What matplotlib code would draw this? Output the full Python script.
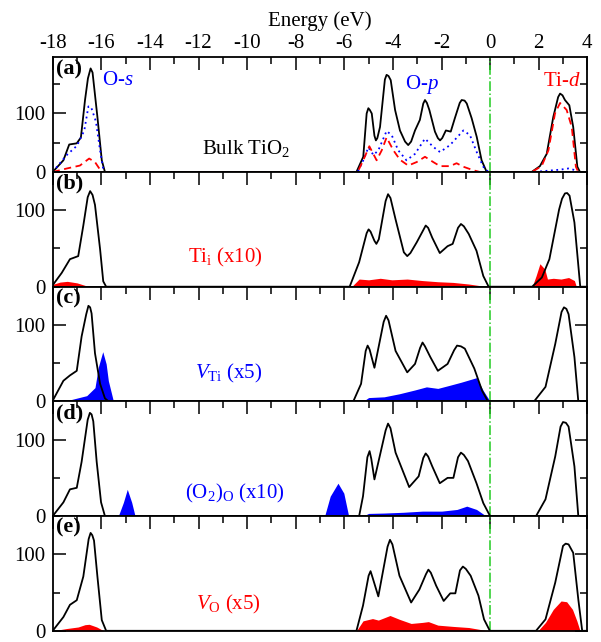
import numpy as np
import matplotlib
matplotlib.use("Agg")
import matplotlib.pyplot as plt
from matplotlib.ticker import MultipleLocator

plt.rcParams['font.family'] = 'Liberation Serif'
plt.rcParams['mathtext.fontset'] = 'custom'
plt.rcParams['mathtext.rm'] = 'Liberation Serif'
plt.rcParams['mathtext.it'] = 'Liberation Serif:italic'
plt.rcParams['mathtext.bf'] = 'Liberation Serif:bold'
plt.rcParams['axes.unicode_minus'] = False

# ---- (a) bulk TiO2 ----
tot_a_e = [-18.0, -17.56, -17.32, -17.01, -16.84, -16.67, -16.55, -16.44, -16.36, -16.16, -15.98, -15.85,
           -5.50, -5.22, -5.08, -5.01, -4.95, -4.87, -4.76, -4.70, -4.64, -4.53, -4.33, -4.26, -4.18,
           -4.09, -3.91, -3.71, -3.50, -3.37, -3.25, -3.09, -2.89, -2.75, -2.68, -2.60, -2.50, -2.27,
           -2.15, -2.06, -1.97, -1.82, -1.62, -1.45, -1.25, -1.17, -1.05, -0.96, -0.76, -0.55, -0.35, -0.14,
           1.71, 2.05, 2.33, 2.60, 2.80, 2.88, 2.98, 3.08, 3.26, 3.42, 3.59, 3.70, 4.0]
tot_a_v = [0, 20, 47, 49, 59, 123, 160, 177, 170, 94, 20, 0,
           0, 26, 100, 109, 106, 100, 62, 54, 58, 77, 158, 166, 164,
           157, 106, 71, 52, 46, 52, 71, 89, 117, 123, 118, 106, 69,
           58, 54, 58, 71, 69, 92, 118, 123, 122, 117, 92, 60, 20, 0,
           0, 10, 31, 94, 128, 134, 131, 123, 114, 77, 9, 0, 0]

os_a_e = [-18.0, -17.7, -17.42, -17.0, -16.7, -16.53, -16.42, -16.22, -16.05, -15.9,
          -5.45, -5.22, -5.01, -4.80, -4.60, -4.26, -4.05, -3.78, -3.44, -3.09, -2.68, -2.34,
          -2.06, -1.65, -1.10, -0.83, -0.55, -0.28, -0.07,
          1.78, 2.33, 2.88, 3.22, 3.42, 3.60, 4.0]
os_a_v = [0, 15, 29, 45, 71, 112, 111, 86, 37, 0,
          0, 20, 42, 29, 37, 70, 63, 37, 20, 31, 57, 43,
          34, 46, 71, 63, 34, 9, 0,
          0, 2, 4, 6, 4, 0, 0]

tid_a_e = [-18.0, -17.42, -16.88, -16.5, -16.26, -16.05, -15.98,
           -5.45, -5.22, -4.97, -4.67, -4.46, -4.26, -3.98, -3.71, -3.37, -3.02, -2.68, -2.34,
           -2.06, -1.65, -1.38, -1.10, -0.69, -0.42,
           1.71, 2.12, 2.40, 2.67, 2.88, 3.15, 3.36, 3.53, 3.63, 4.0]
tid_a_v = [0, 6, 11, 23, 17, 4, 0,
           0, 20, 44, 20, 37, 59, 37, 21, 11, 17, 26, 17,
           10, 10, 15, 9, 3, 0,
           0, 10, 37, 100, 118, 106, 77, 9, 0, 0]

# ---- (b) Ti interstitial ----
tot_b_e = [-18.0, -17.63, -17.29, -16.95, -16.74, -16.56, -16.46, -16.36, -16.26, -16.05, -15.92, -15.8,
           -5.78, -5.39, -5.08, -5.00, -4.92, -4.76, -4.68, -4.58, -4.30, -4.20, -4.10, -3.89,
           -3.55, -3.41, -3.28, -3.02, -2.75, -2.65, -2.55, -2.38, -2.07, -1.75,
           -1.54, -1.32, -1.20, -1.08, -0.88, -0.56, -0.28, -0.06,
           1.73, 2.13, 2.44, 2.84, 2.96, 3.08, 3.17, 3.27, 3.47, 3.71, 4.0]
tot_b_v = [2, 18, 36, 40, 80, 117, 125, 120, 107, 49, 7, 0,
           0, 32, 70, 75, 72, 60, 56, 62, 112, 121, 116, 88,
           45, 40, 44, 58, 74, 80, 77, 64, 44, 53,
           56, 77, 82, 79, 69, 47, 14, 0,
           0, 12, 36, 101, 115, 122, 122.5, 119, 84, 0, 0]
def_b_e = [-18.0, -17.7, -17.4, -17.0, -16.6, -16.4,
           -5.70, -5.39, -5.00, -4.52, -4.04, -3.41, -2.78, -2.15, -1.52, -0.88, -0.40, -0.17,
           1.73, 1.89, 2.05, 2.25, 2.36, 2.60, 2.92, 3.23, 3.47, 3.55]
def_b_v = [3, 6, 7, 5, 1, 0,
           0, 10, 9, 11, 9, 10, 8, 6.5, 5.6, 3.5, 1.3, 0,
           0, 14, 30, 23, 10, 11, 10, 12, 8, 0]

# ---- (c) Ti vacancy ----
tot_c_e = [-18.0, -17.56, -17.29, -17.01, -16.81, -16.62, -16.53, -16.46, -16.40, -16.26, -16.05, -15.85, -15.7,
           -5.63, -5.31, -5.12, -5.04, -4.96, -4.76, -4.38, -4.28, -4.18, -3.89, -3.41, -3.09,
           -2.88, -2.78, -2.68, -2.46, -2.15, -1.75,
           -1.48, -1.36, -1.20, -1.04, -0.65, -0.33, -0.09,
           1.81, 2.28, 2.68, 2.94, 3.04, 3.14, 3.23, 3.47, 3.63, 4.0]
tot_c_v = [1, 27, 34, 40, 85, 114, 125, 123, 115, 63, 23, 4, 0,
           0, 23, 66, 73, 68, 44, 104, 112, 106, 66, 38, 49,
           70, 77, 72, 58, 40, 49,
           67, 73, 72, 69, 43, 14, 0,
           0, 19, 75, 117, 123, 121, 114, 58, 0, 0]
def_c_e = [-18.0, -17.29, -16.6, -16.26, -16.12, -15.94, -15.80, -15.71, -15.5,
           -5.23, -5.00, -4.36, -3.73, -3.09, -2.62, -2.15, -1.67, -1.20, -0.56, -0.28, 0.0,
           2.55, 3.0, 3.4]
def_c_v = [0, 2, 7.5, 18, 45, 65, 49, 27, 0,
           0, 5, 6, 10, 15, 19, 17, 21, 25, 31, 14, 0,
           0, 2, 0]

# ---- (d) O2 on O site ----
tot_d_e = [-18.0, -17.56, -17.29, -17.01, -16.81, -16.56, -16.47, -16.40, -16.33, -16.19, -16.01, -15.85,
           -5.39, -5.23, -5.05, -4.96, -4.89, -4.76, -4.30, -4.20, -4.10, -3.89, -3.33, -2.94,
           -2.75, -2.65, -2.55, -2.38, -2.07, -1.75,
           -1.51, -1.32, -1.20, -1.08, -0.91, -0.56, -0.28, 0.0,
           1.89, 2.28, 2.68, 2.90, 3.00, 3.12, 3.23, 3.47, 3.63, 4.0]
tot_d_v = [0, 18, 35, 37, 71, 126, 135, 133, 124, 71, 18, 0,
           0, 26, 77, 85, 75, 48, 112, 121, 115, 83, 38, 52,
           76, 82, 78, 65, 43, 50,
           50, 77, 83, 80, 72, 43, 17, 0,
           0, 22, 78, 117, 123, 122, 117, 65, 0, 0]
def_d_e = [-18.0, -16.8, -16.5, -16.2, -15.3, -15.09, -14.93, -14.75, -14.61,
           -6.81, -6.58, -6.26, -6.02, -5.82,
           -5.23, -5.00, -4.36, -3.57, -2.78, -1.99, -1.36, -0.96, -0.56, -0.16,
           2.55, 3.0, 3.4]
def_d_v = [0, 0, 2, 0, 0, 18, 35, 18, 0,
           0, 26, 43, 30, 0,
           0, 3.5, 4, 5, 6.5, 6.5, 8.7, 13, 8.7, 0,
           0, 2, 0]

# ---- (e) O vacancy ----
tot_e_e = [-18.0, -17.56, -17.29, -17.01, -16.74, -16.52, -16.44, -16.37, -16.30, -16.16, -15.98, -15.8,
           -5.50, -5.23, -5.00, -4.92, -4.84, -4.60, -4.22, -4.12, -4.02, -3.73, -3.25, -2.91,
           -2.64, -2.54, -2.44, -2.22, -1.91, -1.64,
           -1.43, -1.24, -1.12, -1.00, -0.80, -0.48, -0.25, -0.01,
           1.89, 2.28, 2.68, 3.00, 3.11, 3.23, 3.42, 3.63, 3.79, 4.0]
tot_e_v = [0, 18, 34, 40, 71, 120, 128, 125, 118, 71, 14, 0,
           0, 33, 72, 78, 70, 45, 110, 119, 113, 72, 37, 54,
           74, 80, 76, 59, 39, 49,
           49, 79, 84, 81, 72, 46, 15, 0,
           0, 15, 63, 111, 114, 113, 102, 41, 0, 0]
def_e_e = [-18.0, -17.42, -16.95, -16.67, -16.50, -16.19, -15.9,
           -5.50, -5.23, -4.84, -4.60, -4.12, -3.73, -3.25, -2.78, -2.54, -2.15, -1.51, -0.88, -0.33, 0.0,
           1.97, 2.28, 2.60, 2.92, 3.15, 3.39, 3.57, 3.70]
def_e_v = [0, 3, 5, 8, 8.5, 5, 0,
           0, 13, 16, 14, 20, 15, 9.6, 11, 12, 7.4, 5.7, 4.3, 1.3, 0,
           0, 11, 28, 39, 38, 28, 13, 0]

panels = [
    (tot_a_e, tot_a_v, None, None, None, 196, '(a)'),
    (tot_b_e, tot_b_v, def_b_e, def_b_v, 'red', 150, '(b)'),
    (tot_c_e, tot_c_v, def_c_e, def_c_v, 'blue', 150, '(c)'),
    (tot_d_e, tot_d_v, def_d_e, def_d_v, 'blue', 150, '(d)'),
    (tot_e_e, tot_e_v, def_e_e, def_e_v, 'red', 150, '(e)'),
]

fig = plt.figure(figsize=(6.01, 6.42), dpi=100)
left, width = 52.7 / 601, 534.6 / 601
top_px, h_px = 57.3, 114.7

axes = []
for i, (te, tv, de, dv, dcol, ymax, lab) in enumerate(panels):
    bottom = 1 - (top_px + (i + 1) * h_px) / 642
    ax = fig.add_axes([left, bottom, width, h_px / 642])
    axes.append(ax)
    if de is not None:
        ax.fill_between(de, dv, 0, color=dcol, lw=0, zorder=1)
    ax.plot(te, tv, color='black', lw=1.3, zorder=3)
    ax.axvline(0, color='#22cc22', ls='-.', lw=1.1, zorder=2)
    ax.set_xlim(-18, 4)
    ax.set_ylim(0, ymax)
    ax.xaxis.set_major_locator(MultipleLocator(2))
    ax.xaxis.set_minor_locator(MultipleLocator(1))
    ax.yaxis.set_major_locator(MultipleLocator(100))
    ax.yaxis.set_minor_locator(MultipleLocator(50))
    ax.tick_params(axis='x', which='both', direction='in', top=True, bottom=False,
                   labelbottom=False, labeltop=(i == 0), labelsize=15, pad=3)
    ax.tick_params(axis='y', which='both', direction='in', left=True, right=True,
                   labelsize=15, pad=5)
    ax.tick_params(which='major', length=9, width=1.1)
    ax.tick_params(which='minor', length=5, width=1.1)
    for s in ax.spines.values():
        s.set_linewidth(1.3)
        s.set_zorder(4)
    ax.text(0.006, 0.985, lab, transform=ax.transAxes, ha='left', va='top',
            fontsize=16, fontweight='bold')

ax = axes[0]
ax.plot(os_a_e, os_a_v, color='blue', ls=(0, (1, 2)), lw=1.3, zorder=3)
ax.plot(tid_a_e, tid_a_v, color='red', ls=(0, (4, 2.5)), lw=1.3, zorder=3)
ax.xaxis.set_label_position('top')
ax.set_xlabel('Energy (eV)', fontsize=15, labelpad=6)
ax.text(-15.97, 157, 'O-$s$', color='blue', fontsize=15, ha='left', va='center')
ax.text(-3.5, 149, 'O-$p$', color='blue', fontsize=15, ha='left', va='center')
ax.text(2.17, 155, 'Ti-$d$', color='red', fontsize=15, ha='left', va='center')
ax.text(-10.05, 40, 'Bulk TiO$_2$', color='black', fontsize=15, ha='center', va='center')

axes[1].text(-10.9, 38, 'Ti$_{\\mathrm{i}}$ (x10)', color='red', fontsize=15, ha='center', va='center')
axes[2].text(-10.75, 36, '$V_{\\mathrm{Ti}}$ (x5)', color='blue', fontsize=15, ha='center', va='center')
axes[3].text(-10.5, 30, '(O$_2$)$_{\\mathrm{O}}$ (x10)', color='blue', fontsize=15, ha='center', va='center')
axes[4].text(-10.75, 35, '$V_{\\mathrm{O}}$ (x5)', color='red', fontsize=15, ha='center', va='center')

fig.savefig('out.png', dpi=100)
